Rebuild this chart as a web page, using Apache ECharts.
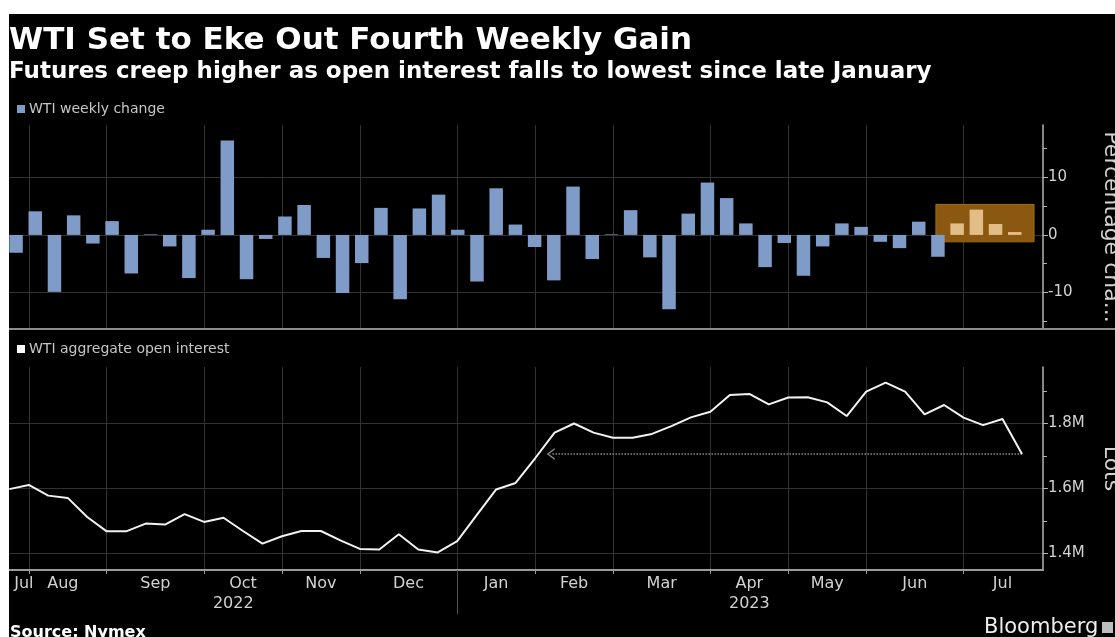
<!DOCTYPE html>
<html>
<head>
<meta charset="utf-8">
<script src="https://cdn.jsdelivr.net/npm/echarts@6/dist/echarts.min.js"></script>
<style>
  html, body { margin: 0; padding: 0; background: #ffffff; }
  #chart { width: 1115px; height: 637px; }
</style>
</head>
<body>
<div id="chart"></div>
<script>
// Week-ending dates (Fridays)
const weeks = [
  '2022-07-29', '2022-08-05', '2022-08-12', '2022-08-19', '2022-08-26',
  '2022-09-02', '2022-09-09', '2022-09-16', '2022-09-23', '2022-09-30',
  '2022-10-07', '2022-10-14', '2022-10-21', '2022-10-28',
  '2022-11-04', '2022-11-11', '2022-11-18', '2022-11-25',
  '2022-12-02', '2022-12-09', '2022-12-16', '2022-12-23', '2022-12-30',
  '2023-01-06', '2023-01-13', '2023-01-20', '2023-01-27',
  '2023-02-03', '2023-02-10', '2023-02-17', '2023-02-24',
  '2023-03-03', '2023-03-10', '2023-03-17', '2023-03-24', '2023-03-31',
  '2023-04-07', '2023-04-14', '2023-04-21', '2023-04-28',
  '2023-05-05', '2023-05-12', '2023-05-19', '2023-05-26',
  '2023-06-02', '2023-06-09', '2023-06-16', '2023-06-23', '2023-06-30',
  '2023-07-07', '2023-07-14', '2023-07-21', '2023-07-28'
];

// WTI weekly change, %
const weeklyChange = [
  -3.1, 4.1, -9.9, 3.4, -1.5, 2.4, -6.7, 0.1, -2.0, -7.5,
  0.9, 16.4, -7.7, -0.7, 3.2, 5.2, -4.0, -10.1, -4.9, 4.7,
  -11.2, 4.6, 7.0, 0.9, -8.1, 8.1, 1.8, -2.1, -7.9, 8.4,
  -4.2, 0.1, 4.3, -3.9, -12.9, 3.7, 9.1, 6.4, 2.0, -5.6,
  -1.4, -7.1, -2.0, 2.0, 1.4, -1.2, -2.3, 2.3, -3.8, 2.0,
  4.4, 1.9, 0.5
];

// WTI aggregate open interest, lots
const openInterest = [
  1598000, 1611000, 1578000, 1571000, 1512000, 1468000, 1468000, 1492000, 1489000, 1521000,
  1497000, 1510000, 1469000, 1430000, 1453000, 1469000, 1469000, 1440000, 1414000, 1412000,
  1459000, 1412000, 1403000, 1438000, 1518000, 1597000, 1617000, 1693000, 1772000, 1800000,
  1772000, 1756000, 1756000, 1768000, 1792000, 1819000, 1836000, 1888000, 1891000, 1859000,
  1880000, 1881000, 1865000, 1823000, 1898000, 1926000, 1898000, 1828000, 1857000, 1818000,
  1795000, 1814000, 1706000
];

// Start of the current run of weekly gains
const gainRunStart = '2023-07-07';

// Time axis ticks and labels, in weeks from the first date
const monthTickWeeks = weeks
  .map((d, i) => (i > 0 && d.slice(5, 7) !== weeks[i - 1].slice(5, 7)) ? i : -1)
  .filter(i => i >= 0);
const monthLabels = ['Jul', 'Aug', 'Sep', 'Oct', 'Nov', 'Dec', 'Jan', 'Feb', 'Mar', 'Apr', 'May', 'Jun', 'Jul'];
const monthLabelWeeks = [0.75, 2.75, 7.5, 12, 16, 20.5, 25, 29, 33.5, 38, 42, 46.5, 51];
const yearLabels = ['2022', '2023'];
const yearLabelWeeks = [11.5, 38];
const yearBreakWeeks = [weeks.indexOf('2023-01-06')];

// Value axis ticks
const changeLabelTicks = [-10, 0, 10];
const changeMinorTicks = [-15, -5, 5, 15];
const oiLabelTicks = [1400000, 1600000, 1800000];
const oiMinorTicks = [1500000, 1700000, 1900000];

// Highlight box around the latest gains (weeks, %)
const highlightBox = { fromWeek: 47.58, toWeek: 52.62, top: 5.3, bottom: -1.2 };
// The open-interest arrow points back to where the line last stood this low
const arrowBackToWeek = 27.8;

const FONT = 'DejaVu Sans';
const BLUE = '#7f9bc8';
const GAIN = '#e2bd86';
const GRID_LINE = '#323232';
const AXIS_LINE = '#b5b5b5';
const LABEL = '#d2d2d2';

const weekMin = -0.067, weekMax = 53.08;
const chgMin = -16.35, chgMax = 19.1;
const oiMin = 1349000, oiMax = 1974000;

function pick(labels, positions) {
  return function (v) {
    let best = 0;
    for (let i = 1; i < positions.length; i++) {
      if (Math.abs(positions[i] - v) < Math.abs(positions[best] - v)) best = i;
    }
    return labels[best];
  };
}

const gainIdx = weeks.indexOf(gainRunStart);
const barData = weeklyChange.map((v, i) => ({
  value: v,
  itemStyle: { color: i >= gainIdx ? GAIN : BLUE }
}));
const lineData = openInterest.map((v, i) => [i, v]);
const lastOI = openInterest[openInterest.length - 1];

const gridBase = { outerBoundsMode: 'none', containLabel: false };
// open chevron arrowhead (points up; markLine turns it along the line)
const CHEVRON = 'path://M0,10 L5,0 L10,10 L8.6,10 L5,2.6 L1.4,10 Z';

const chart = echarts.init(document.getElementById('chart'), null, { renderer: 'canvas' });

chart.setOption({
  backgroundColor: '#000000',
  animation: false,
  textStyle: { fontFamily: FONT },
  title: [
    {
      text: 'WTI Set to Eke Out Fourth Weekly Gain',
      left: 9, top: 25, padding: 0,
      textStyle: { color: '#ffffff', fontSize: 31, fontWeight: 'bold', fontFamily: FONT }
    },
    {
      text: 'Futures creep higher as open interest falls to lowest since late January',
      left: 9, top: 61, padding: 0,
      textStyle: { color: '#ffffff', fontSize: 23, fontWeight: 'bold', fontFamily: FONT }
    }
  ],
  legend: [
    {
      data: ['WTI weekly change'],
      left: 17, top: 102, padding: 0,
      icon: 'rect', itemWidth: 8, itemHeight: 8, itemGap: 4,
      textStyle: { color: '#c6c6c6', fontSize: 14, fontFamily: FONT, padding: [0, 0, 0, -1] },
      selectedMode: false
    },
    {
      data: ['WTI aggregate open interest'],
      left: 17, top: 342, padding: 0,
      icon: 'rect', itemWidth: 8, itemHeight: 8, itemGap: 4,
      textStyle: { color: '#c6c6c6', fontSize: 14, fontFamily: FONT, padding: [0, 0, 0, -1] },
      selectedMode: false
    }
  ],
  grid: [
    Object.assign({ left: 8, right: 72, top: 125, height: 204 }, gridBase),
    Object.assign({ left: 16.05, right: 100.25, top: 125, height: 204 }, gridBase),
    Object.assign({ left: 8, right: 72, top: 367, height: 203 }, gridBase)
  ],
  xAxis: [
    {
      gridIndex: 0, type: 'value', min: weekMin, max: weekMax,
      axisLine: { show: false, onZero: false },
      axisTick: { show: false, customValues: monthTickWeeks },
      axisLabel: { show: false },
      splitLine: { show: true, lineStyle: { color: GRID_LINE, width: 1 } }
    },
    {
      gridIndex: 1, type: 'category', data: weeks, boundaryGap: false, show: false
    },
    {
      gridIndex: 2, type: 'value', min: weekMin, max: weekMax, position: 'bottom',
      axisLine: { show: true, onZero: false, lineStyle: { color: '#9a9a9a', width: 2 } },
      axisTick: { show: true, customValues: monthTickWeeks, length: 4, lineStyle: { color: '#9a9a9a' } },
      axisLabel: {
        customValues: monthLabelWeeks, formatter: pick(monthLabels, monthLabelWeeks),
        color: LABEL, fontSize: 16, margin: 6, fontFamily: FONT
      },
      splitLine: { show: true, lineStyle: { color: GRID_LINE, width: 1 } }
    },
    {
      gridIndex: 2, type: 'value', min: weekMin, max: weekMax, position: 'bottom',
      axisLine: { show: false, onZero: false },
      axisTick: { show: true, customValues: yearBreakWeeks, length: 44, lineStyle: { color: '#555555' } },
      axisLabel: {
        customValues: yearLabelWeeks, formatter: pick(yearLabels, yearLabelWeeks),
        color: LABEL, fontSize: 16, margin: 26, fontFamily: FONT
      },
      splitLine: { show: false }
    }
  ],
  yAxis: [
    {
      gridIndex: 0, type: 'value', position: 'right', min: chgMin, max: chgMax,
      axisLine: { show: true, onZero: false, lineStyle: { color: AXIS_LINE, width: 1.5 } },
      axisTick: { show: true, customValues: changeLabelTicks, length: 5, lineStyle: { color: AXIS_LINE } },
      axisLabel: { customValues: changeLabelTicks, color: LABEL, fontSize: 15, margin: 5, fontFamily: FONT },
      splitLine: { show: true, lineStyle: { color: GRID_LINE, width: 1 } },
      name: 'Percentage cha...', nameLocation: 'middle', nameRotate: -90, nameGap: 57,
      nameTextStyle: { color: LABEL, fontSize: 22, fontFamily: FONT }
    },
    {
      gridIndex: 0, type: 'value', position: 'right', min: chgMin, max: chgMax,
      axisLine: { show: false, onZero: false },
      axisTick: { show: true, customValues: changeMinorTicks, length: 4, lineStyle: { color: AXIS_LINE } },
      axisLabel: { show: false },
      splitLine: { show: false }
    },
    {
      gridIndex: 1, type: 'value', min: chgMin, max: chgMax, show: false
    },
    {
      gridIndex: 2, type: 'value', position: 'right', min: oiMin, max: oiMax,
      axisLine: { show: true, onZero: false, lineStyle: { color: AXIS_LINE, width: 1.5 } },
      axisTick: { show: true, customValues: oiLabelTicks, length: 5, lineStyle: { color: AXIS_LINE } },
      axisLabel: {
        customValues: oiLabelTicks, color: LABEL, fontSize: 15, margin: 5, fontFamily: FONT,
        formatter: v => (v / 1e6).toFixed(1) + 'M'
      },
      splitLine: { show: true, lineStyle: { color: GRID_LINE, width: 1 } },
      name: 'Lots', nameLocation: 'middle', nameRotate: -90, nameGap: 57,
      nameTextStyle: { color: LABEL, fontSize: 22, fontFamily: FONT }
    },
    {
      gridIndex: 2, type: 'value', position: 'right', min: oiMin, max: oiMax,
      axisLine: { show: false, onZero: false },
      axisTick: { show: true, customValues: oiMinorTicks, length: 4, lineStyle: { color: AXIS_LINE } },
      axisLabel: { show: false },
      splitLine: { show: false }
    }
  ],
  series: [
    {
      // highlight box behind the latest weekly gains
      name: 'highlight', type: 'line', xAxisIndex: 0, yAxisIndex: 0, data: [], z: 1,
      markArea: {
        silent: true, z: 1,
        itemStyle: { color: '#8a5810', borderColor: '#a26c18', borderWidth: 1 },
        data: [[
          { xAxis: highlightBox.fromWeek, yAxis: highlightBox.top },
          { xAxis: highlightBox.toWeek, yAxis: highlightBox.bottom }
        ]]
      }
    },
    {
      name: 'WTI weekly change', type: 'bar', xAxisIndex: 1, yAxisIndex: 2,
      data: barData, barWidth: 13.5, clip: false, z: 5,
      itemStyle: { color: BLUE }
    },
    {
      name: 'WTI aggregate open interest', type: 'line', xAxisIndex: 2, yAxisIndex: 3,
      data: lineData, symbol: 'none', z: 5, color: '#ffffff',
      lineStyle: { color: '#f2f2f2', width: 2 },
      markLine: {
        silent: true, symbol: ['none', CHEVRON], symbolSize: [12, 8],
        label: { show: false },
        itemStyle: { color: '#8a8a8a' },
        lineStyle: { color: '#8a8a8a', type: 'dotted', width: 1.5 },
        data: [[
          { coord: [openInterest.length - 1, lastOI] },
          { coord: [arrowBackToWeek, lastOI] }
        ]]
      }
    }
  ],
  graphic: [
    { type: 'line', z: 50, shape: { x1: 9, y1: 329, x2: 1115, y2: 329 }, style: { stroke: '#8c8c8c', lineWidth: 2 } },
    { type: 'text', z: 50, left: 10, top: 625, style: { text: 'Source: Nymex', fill: '#ffffff', font: 'bold 16px "DejaVu Sans"' } },
    { type: 'text', z: 50, left: 984, top: 617, style: { text: 'Bloomberg', fill: '#eeeeee', font: '21px "DejaVu Sans"' } },
    { type: 'rect', z: 50, shape: { x: 1102, y: 622, width: 11, height: 11 }, style: { fill: '#bdbdbd' } },
    { type: 'rect', z: 100, shape: { x: 0, y: 0, width: 1115, height: 14 }, style: { fill: '#ffffff' } },
    { type: 'rect', z: 100, shape: { x: 0, y: 0, width: 9, height: 637 }, style: { fill: '#ffffff' } }
  ]
});
</script>
</body>
</html>
